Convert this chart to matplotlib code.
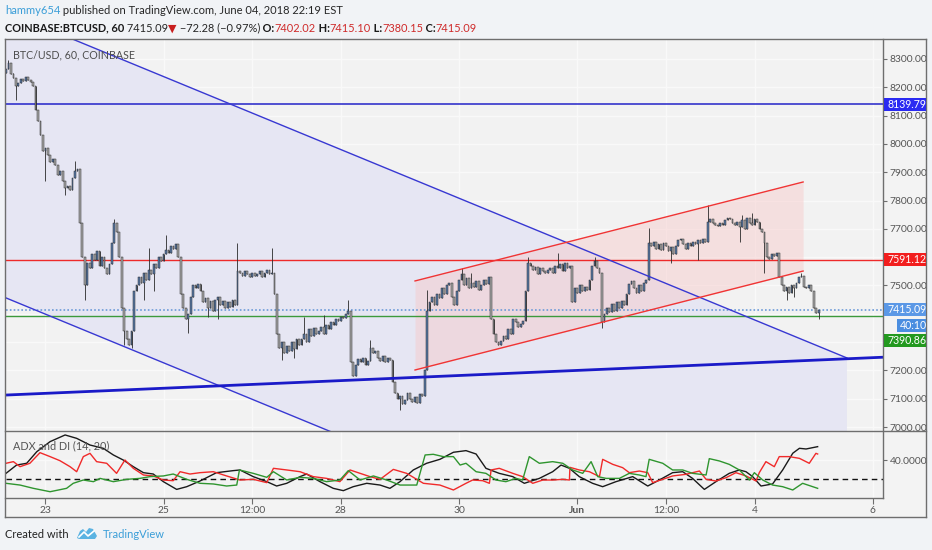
import numpy as np
import matplotlib
matplotlib.use("Agg")
import matplotlib.pyplot as plt
from matplotlib.patches import Rectangle, Polygon
from matplotlib.lines import Line2D

# ---------------- data ----------------
FIRST_HOUR = 8            # first candle: May 22, 08:00 (hours since May 22 00:00)
FIRST_OPEN = 8250.0
closes = [
    8265, 8285, 8248, 8232, 8205, 8215, 8228, 8222, 8235, 8226,
    8218, 8205, 8120, 8080, 8030, 7975, 7985, 7960, 7935, 7945,
    7925, 7890, 7905, 7870, 7845, 7850, 7838, 7880, 7905, 7912,
    7720, 7600, 7500, 7580, 7560, 7610, 7590, 7620, 7570, 7600,
    7560, 7540, 7575, 7650, 7720, 7690, 7600, 7420, 7340, 7310,
    7290, 7340, 7480, 7500, 7530, 7510, 7545, 7520, 7555, 7540,
    7575, 7560, 7600, 7585, 7610, 7625, 7615, 7640, 7630, 7645,
    7600, 7470, 7420, 7380, 7400, 7460, 7500, 7490, 7505, 7480,
    7440, 7455, 7420, 7445, 7410, 7450, 7460, 7430, 7445, 7420,
    7440, 7425, 7450, 7430, 7550, 7545, 7535, 7550, 7540, 7530,
    7545, 7535, 7540, 7550, 7530, 7545, 7555, 7540, 7545, 7470,
    7330, 7280, 7300, 7260, 7285, 7270, 7300, 7275, 7310, 7290,
    7310, 7330, 7300, 7345, 7320, 7350, 7330, 7340, 7355, 7330,
    7360, 7345, 7370, 7360, 7380, 7375, 7390, 7385, 7400, 7410,
    7230, 7180, 7220, 7240, 7230, 7245, 7220, 7235, 7280, 7260,
    7270, 7245, 7235, 7250, 7230, 7245, 7238, 7160, 7120, 7100,
    7110, 7080, 7095, 7120, 7100, 7090, 7105, 7085, 7115, 7110,
    7200, 7410, 7440, 7460, 7430, 7470, 7455, 7490, 7470, 7500,
    7510, 7460, 7430, 7480, 7520, 7540, 7500, 7525, 7490, 7510,
    7495, 7515, 7485, 7500, 7520, 7505, 7530, 7380, 7330, 7300,
    7290, 7305, 7320, 7310, 7345, 7330, 7380, 7370, 7355, 7365,
    7375, 7480, 7580, 7570, 7555, 7565, 7540, 7560, 7550, 7545,
    7555, 7560, 7545, 7570, 7560, 7575, 7550, 7580, 7560, 7570,
    7440, 7490, 7475, 7500, 7480, 7495, 7485, 7520, 7570, 7585,
    7560, 7545, 7370, 7400, 7420, 7405, 7435, 7410, 7440, 7420,
    7445, 7430, 7470, 7505, 7515, 7490, 7475, 7500, 7480, 7510,
    7520, 7650, 7640, 7655, 7630, 7645, 7625, 7650, 7640, 7620,
    7635, 7610, 7640, 7660, 7665, 7645, 7630, 7650, 7640, 7655,
    7645, 7660, 7650, 7665, 7655, 7725, 7735, 7720, 7715, 7710,
    7720, 7715, 7730, 7740, 7735, 7720, 7715, 7725, 7705, 7730,
    7700, 7740, 7720, 7715, 7735, 7725, 7700, 7690, 7650, 7600,
    7595, 7610, 7605, 7615, 7530, 7500, 7480, 7495, 7475, 7500,
    7490, 7510, 7530, 7535, 7495, 7490, 7500, 7480, 7420, 7402.02, 7415.09,
]
# visible wick extremes (candle index -> price)
high_wicks = {1: 8298, 3: 8250, 28: 7940, 44: 7735, 58: 7632, 65: 7680, 94: 7650,
              108: 7632, 121: 7390, 129: 7396, 139: 7449, 148: 7308, 171: 7484,
              185: 7560, 189: 7545, 212: 7600, 224: 7615, 239: 7602, 261: 7703,
              285: 7784, 299: 7748, 303: 7756, 323: 7545, 330: 7415.10}
low_wicks = {4: 8155, 16: 7870, 24: 7820, 32: 7449, 48: 7290, 51: 7279, 56: 7449,
             60: 7479, 74: 7332, 82: 7390, 86: 7380, 112: 7237, 117: 7245, 160: 7060,
             242: 7350, 270: 7580, 281: 7590, 298: 7655, 308: 7544, 317: 7450,
             320: 7460, 330: 7380.15}

# ADX and DI (14, 20): (hour, value)
adx_t = [8, 12.3, 16.4, 20.5, 25.9, 32, 36.7, 42.1, 47.5, 51.6, 55.6, 59.7, 63.8, 67.8,
         71.9, 77.3, 81.4, 86.8, 93.5, 100.3, 103, 108.4, 113.9, 117.9, 122, 127.4, 130.1,
         135.5, 140.9, 145, 149, 154.5, 159.9, 163.9, 168, 173.4, 178.8, 184.2, 189.7,
         194.8, 198.9, 202.9, 208.3, 213.8, 218.5, 224.6, 230, 233.4, 236.8, 240.8, 246.2,
         250.3, 255.7, 262.5, 268.6, 273.3, 278.7, 282.8, 286.8, 291.6, 296.3, 301.7,
         305.8, 308.5, 311.2, 314.6, 319.3, 323.4, 327.5, 330.2, 332.9, 337.6]
adx_v = [26.2, 34.8, 36.6, 48.6, 59, 65.9, 62.4, 55.5, 52.1, 45.2, 40, 33.1, 26.9, 25.5,
         17.6, 9.6, 12.4, 18.3, 26.9, 29, 29.7, 22.8, 17.6, 13.1, 15.9, 22.8, 25.5,
         17.6, 10.7, 8.3, 12.4, 15.9, 14.1, 10.7, 17.6, 29.7, 36.6, 40.7, 48,
         49.7, 46.2, 31.4, 26.2, 22.8, 15.9, 21.0, 27.9, 34.8, 31.4, 22.8, 15.9,
         12.4, 17.6, 22.8, 13.1, 19.3, 26.9, 27.9, 21, 9.6, 17.6, 26.2,
         29.7, 27.9, 22.8, 13.1, 15.2, 29.7, 47, 52.1, 51.4, 53.8]
pdi_t = [8, 11, 13.7, 17.7, 21.8, 25.9, 29.9, 34, 36.7, 39.4, 42.1, 44.8, 48.9, 52.9, 56.3,
         59.7, 63.8, 67.8, 71.9, 75.9, 78.7, 82.7, 86.8, 92.2, 97.6, 103, 108.4, 113.9,
         116.6, 122, 127.4, 132.8, 138.2, 143.6, 147.7, 151.8, 155.8, 159.9, 165.3, 170.7,
         177.5, 184.2, 189.7, 194.8, 197.5, 201.6, 204.3, 205, 208.3, 213.8, 217.8, 221.9,
         226, 230, 234.1, 236.8, 237, 240.8, 244.9, 249, 250.3, 254.4, 258.4, 261.1, 265.2,
         268.6, 270.6, 274.7, 278.7, 284.1, 289.6, 292.3, 296.3, 300.4, 304.4, 308.5,
         312.6, 313.9, 316.6, 320, 322, 326.1, 330.2, 334.2, 336.9, 337.6]
pdi_v = [36.6, 38.3, 33.1, 36.6, 47.6, 43.5, 39.3, 33.1, 27.9, 43.5, 46.9, 38.3, 36.6, 26.2, 40,
         31.4, 24.5, 23.5, 19.3, 18.6, 27.9, 25.5, 26.9, 27.9, 23.5, 19.3, 20, 16.6,
         31.4, 29.7, 27.9, 22.8, 21, 17.6, 29.7, 26.2, 22.8, 20, 30.3, 26.2,
         15.9, 14.1, 9, 15.9, 19.3, 18.6, 15.9, 29.7, 31.4, 26.2, 22.8, 15.9,
         19.3, 19.3, 20, 19.3, 32.4, 29.7, 27.9, 22.8, 40.7, 35.5, 32.1, 26.9, 28.6,
         26.9, 16.6, 20, 23.5, 25.2, 28.6, 20, 18.3, 21.7, 26.9, 23.5,
         18.3, 26.9, 38.3, 33.1, 43.5, 43.5, 41.7, 36.6, 46.9, 46.2]
mdi_t = [8, 13.7, 19.1, 25.9, 32.6, 35.3, 39.4, 43.5, 46.2, 51.6, 57, 62.4, 66.5, 71.9, 75.9,
         81.4, 86.8, 92.2, 97.6, 101.7, 102.8, 108.4, 113.9, 116.6, 122, 127.4, 132.8,
         138.2, 143.6, 147, 151.8, 157.2, 162.6, 168, 174.8, 178.2, 181.5, 185.6, 189.7,
         192.4, 194.8, 198.9, 202.9, 207, 211, 215.1, 217.8, 220.5, 224.6, 230, 234.1,
         238.1, 242.2, 245.6, 248.3, 251.7, 257.1, 261.1, 265.2, 267.9, 269.2, 274.7,
         278.7, 282.8, 286.8, 292.3, 293.6, 297.7, 301.7, 305.8, 309.9, 311.9, 315.3,
         319.3, 323.4, 327.5, 331.5, 335.6, 337.6]
mdi_v = [15.9, 14.1, 10.7, 7.2, 10.7, 15.9, 19.3, 17.6, 21, 17.6, 20, 21, 22.8, 23.5, 25.5,
         20, 15.9, 15.2, 13.1, 14.1, 29.7, 26.2, 22.1, 27.9, 19.3, 22.1, 21,
         17.6, 19.3, 29, 19.3, 23.5, 19.3, 14.1, 14.1, 45.2, 45.9, 43.5, 43.5,
         34.8, 36.6, 27.9, 26.2, 19.3, 17.6, 21, 19.3, 43.5, 36.6, 38.3, 36.6,
         29.7, 26.2, 38.3, 22.8, 21, 21, 26.2, 24.5, 22.8, 40.7, 36.6,
         29.7, 29.7, 26.2, 24.5, 41.4, 39, 35.5, 29.7, 19.3, 26.9, 19.3,
         14.1, 12.4, 9, 15.9, 12.4, 10.7]
ADX_KEY_LEVEL = 20

# user drawings (hour, price)
desc_channel = {"t": [8, 349.5], "upper": [8467, 7244], "width": 1011}
rise_channel = {"t": [174.1, 331.7], "upper": [7516, 7865.5], "width": 314.5}
trend_line = {"t": [8, 364.2], "p": [7113, 7246.6]}
hlines = {"blue": 8139.79, "red": 7591.12, "green": 7390.86, "last": 7415.09}
countdown = "40:10"

tick_hours = [24, 72, 108, 144, 192, 240, 276, 312, 360]
tick_labels = ["23", "25", "12:00", "28", "30", "Jun", "12:00", "4", "6"]
price_ticks = list(range(7000, 8301, 100))
hidden_price_ticks = [7300, 7400, 7600]   # covered by the price label boxes

# ---------------- figure ----------------
W, H = 932, 550
FAM = ["Lato", "DejaVu Sans"]
plt.rcParams["font.family"] = FAM
fig = plt.figure(figsize=(W / 100, H / 100), dpi=100, facecolor="#f1f3f6")

def fx(px):
    return px / W

def fy(py):
    return 1 - py / H

PANE = "#f2f2f2"
FRAME = "#6e6e6e"
TXT = "#555555"

# frame interior
fig.add_artist(Rectangle((fx(5), fy(517)), (926 - 5) / W, (517 - 39) / H,
                         transform=fig.transFigure, facecolor="#f3f3f3",
                         edgecolor="none", zorder=-5))

ax = fig.add_axes([fx(6), fy(431), (883 - 6) / W, (431 - 40) / H])
axi = fig.add_axes([fx(6), fy(498), (883 - 6) / W, (498 - 431) / H], sharex=ax)
xlim = (FIRST_HOUR, FIRST_HOUR + 877 / 2.4625)

for a in (ax, axi):
    a.set_facecolor(PANE)
    for s in a.spines.values():
        s.set_visible(False)
    a.set_axisbelow(True)
    a.grid(True, color="#f9f9f9", lw=1)

ax.set_xlim(*xlim)
ax.set_ylim(6986, 8367)

# --- candles ---
c = np.array(closes, dtype=float)
n = len(c)
t = FIRST_HOUR + np.arange(n)
o = np.r_[FIRST_OPEN, c[:-1]]
hi = np.maximum(o, c)
lo = np.minimum(o, c)
for k, v in high_wicks.items():
    hi[k] = max(hi[k], v)
for k, v in low_wicks.items():
    lo[k] = min(lo[k], v)
up = c >= o

# fills
dc_t = desc_channel["t"]
dc_u = np.array(desc_channel["upper"])
ax.fill_between(dc_t, dc_u, dc_u - desc_channel["width"], color="#e6e6f3", lw=0, zorder=1)
rc_t = rise_channel["t"]
rc_u = np.array(rise_channel["upper"])
ax.fill_between(rc_t, rc_u, rc_u - rise_channel["width"], color="#f7c8c8", alpha=0.45, lw=0, zorder=1.1)

# horizontal lines
ax.axhline(hlines["blue"], color="#2323c8", lw=1.1, zorder=2)
ax.axhline(hlines["red"], color="#ee2a2a", lw=1.0, zorder=2)
ax.axhline(hlines["green"], color="#3c9a3c", lw=1.0, zorder=2)
ax.axhline(hlines["last"], color="#6b9ad8", lw=1.2, ls=(0, (1, 1.3)), zorder=2)

ax.vlines(t, lo, hi, color="#2a2a2a", lw=0.6, zorder=3)
ax.bar(t[up], (c - o)[up], bottom=o[up], width=0.72, color="#5878a6",
       edgecolor="#2a2a2a", linewidth=0.35, zorder=3.1)
ax.bar(t[~up], (o - c)[~up], bottom=c[~up], width=0.72, color="#a8a8a8",
       edgecolor="#2a2a2a", linewidth=0.35, zorder=3.1)

# drawings
ax.plot(dc_t, dc_u, color="#3838d2", lw=1.0, zorder=4)
ax.plot(dc_t, dc_u - desc_channel["width"], color="#3838d2", lw=1.0, zorder=4)
ax.plot(rc_t, rc_u, color="#f03434", lw=1.0, zorder=4)
ax.plot(rc_t, rc_u - rise_channel["width"], color="#f03434", lw=1.0, zorder=4)
ax.plot(trend_line["t"], trend_line["p"], color="#1a1ac8", lw=2.0, zorder=4,
        solid_capstyle="butt")

# right price axis
ax.yaxis.tick_right()
ax.set_yticks(price_ticks)
ax.set_yticklabels(["" if v in hidden_price_ticks else f"{v:.2f}" for v in price_ticks])
ax.tick_params(axis="y", direction="out", length=3, width=0.8, color=FRAME,
               pad=2, labelsize=7.4, labelcolor=TXT)
ax.tick_params(axis="x", length=0, labelbottom=False)
ax.set_xticks(tick_hours)

ax.text(7 / 877, 1 - 15 / 391, "BTC/USD, 60, COINBASE", transform=ax.transAxes,
        fontsize=7.7, color="#4d4d4d", va="center", ha="left", zorder=6)

# --- indicator ---
axi.set_ylim(0.7, 70)
axi.plot(adx_t, adx_v, color="#1a1a1a", lw=1.0, zorder=3)
axi.plot(pdi_t, pdi_v, color="#f02a2a", lw=1.0, zorder=3)
axi.plot(mdi_t, mdi_v, color="#2f952f", lw=1.0, zorder=3)
axi.axhline(ADX_KEY_LEVEL, color="#111111", lw=1.0, dashes=(4, 3), zorder=2)
axi.yaxis.tick_right()
axi.set_yticks([40])
axi.set_yticklabels(["40.0000"])
axi.tick_params(axis="y", direction="out", length=3, width=0.8, color=FRAME,
                pad=2, labelsize=7.4, labelcolor=TXT)
axi.set_xticks(tick_hours)
axi.set_xticklabels(tick_labels)
axi.tick_params(axis="x", direction="out", length=4, width=0.8, color=FRAME,
                pad=2, labelsize=7.4, labelcolor=TXT)
for lab in axi.get_xticklabels():
    if lab.get_text() == "Jun":
        lab.set_fontweight("bold")
axi.text(7 / 877, 1 - 15 / 67, "ADX and DI (14, 20)", transform=axi.transAxes,
         fontsize=7.8, color="#555555", va="center", ha="left", zorder=6)

# --- frame lines ---
def fline(x0, y0, x1, y1, color=FRAME, lw=1.0):
    fig.add_artist(Line2D([fx(x0), fx(x1)], [fy(y0), fy(y1)], transform=fig.transFigure,
                          color=color, lw=lw, zorder=10))

fline(5, 39, 926, 39)
fline(5, 517, 926, 517)
fline(5, 39, 5, 517)
fline(926, 39, 926, 517)
fline(5, 431, 926, 431)
fline(5, 498, 883, 498)
fline(883, 39, 883, 498)

# --- price label boxes on the axis ---
def price_to_py(p):
    disp = ax.transData.transform((xlim[0], p))
    return H - disp[1]

def axis_box(py, text, color, x0=884, x1=926):
    fig.add_artist(Rectangle((fx(x0), fy(py + 6.5)), (x1 - x0) / W, 13 / H,
                             transform=fig.transFigure, facecolor=color,
                             edgecolor="none", zorder=11))
    fig.text(fx(x0 + 3), fy(py), text, color="white", fontsize=7.6,
             va="center", ha="left", zorder=12)

axis_box(price_to_py(hlines["blue"]), f"{hlines['blue']:.2f}", "#2a2af2")
axis_box(price_to_py(hlines["red"]), f"{hlines['red']:.2f}", "#f21e1e")
py_last = price_to_py(hlines["last"])
axis_box(py_last, f"{hlines['last']:.2f}", "#5b98e6")
axis_box(py_last + 16, countdown, "#4b8ee0", x0=897)
axis_box(py_last + 31, f"{hlines['green']:.2f}", "#23991f")

# --- header ---
renderer = fig.canvas.get_renderer()

def segments(x_px, y_px, segs, size):
    x = x_px
    for text, color, weight in segs:
        tt = fig.text(fx(x), fy(y_px), text, color=color, fontsize=size,
                      fontweight=weight, va="center", ha="left", family=FAM)
        x += tt.get_window_extent(renderer).width

segments(5, 11, [("hammy654", "#3b9ed8", "normal"),
                 (" published on TradingView.com, June 04, 2018 22:19 EST", "#262626", "normal")], 8.0)
RED = "#cf2a2a"
segments(5, 28, [("COINBASE:BTCUSD, 60", "#1a1a1a", "bold"),
                 (" 7415.09", "#262626", "normal"),
                 ("\u25BC", "#c81e1e", "normal"),
                 (" \u221272.28 (\u22120.97%)", "#262626", "normal"),
                 (" O:", "#1a1a1a", "bold"), ("7402.02", RED, "normal"),
                 (" H:", "#1a1a1a", "bold"), ("7415.10", RED, "normal"),
                 (" L:", "#1a1a1a", "bold"), ("7380.15", RED, "normal"),
                 (" C:", "#1a1a1a", "bold"), ("7415.09", RED, "normal")], 7.9)

# --- footer ---
fig.text(fx(5), fy(534), "Created with", color="#222222", fontsize=8.0, va="center", ha="left")
logo = [(77, 538), (80, 531), (83, 529), (86, 532), (89, 528), (93, 529), (97, 536), (95, 539), (79, 539)]
fig.add_artist(Polygon([(fx(x), fy(y)) for x, y in logo], closed=True, transform=fig.transFigure,
                       facecolor="#5bb3e2", edgecolor="none"))
fig.add_artist(Line2D([fx(79), fx(84), fx(88), fx(94)], [fy(537), fy(532), fy(536), fy(531)],
                      transform=fig.transFigure, color="white", lw=1.2))
fig.text(fx(103), fy(534), "TradingView", color="#3b9ed8", fontsize=8.0, va="center", ha="left")

fig.savefig("out.png", dpi=100, facecolor=fig.get_facecolor())
